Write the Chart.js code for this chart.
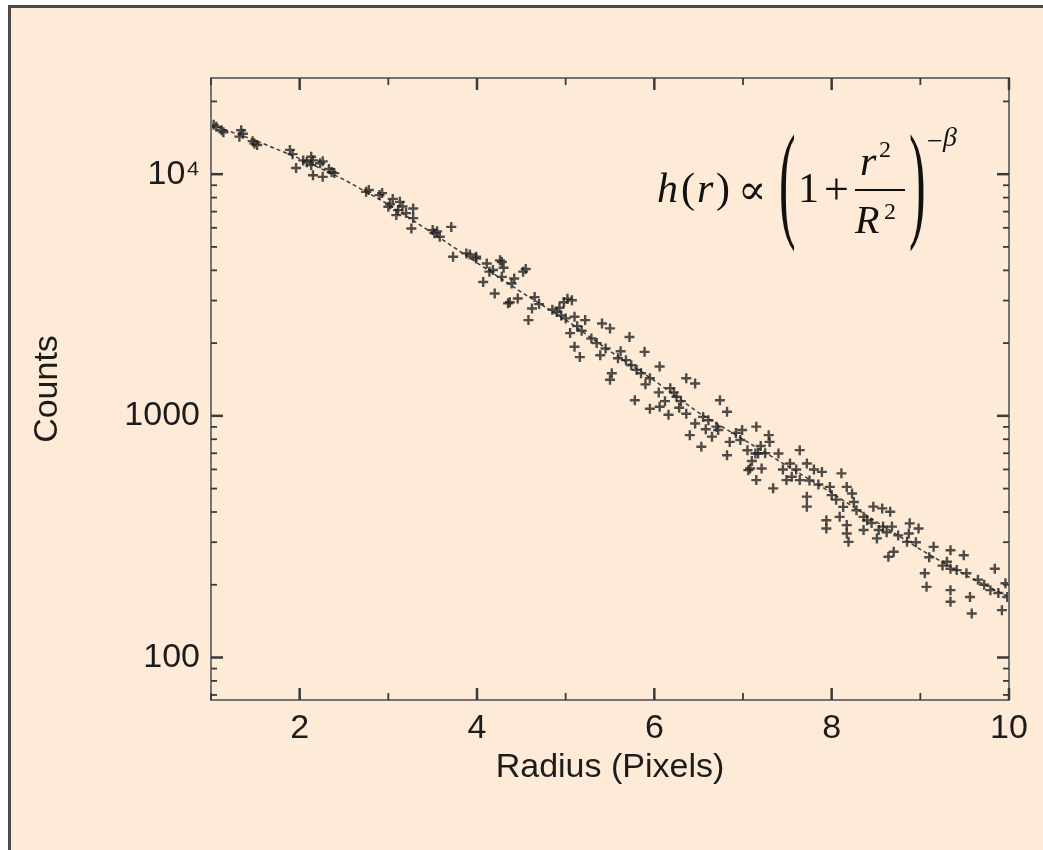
<!DOCTYPE html>
<html>
<head>
<meta charset="utf-8">
<title>Counts vs Radius</title>
<script src="https://cdn.jsdelivr.net/npm/chart.js@4.4.1/dist/chart.umd.min.js"></script>
<style>
  html, body { margin: 0; padding: 0; background: #ffffff; }
  #frame {
    position: absolute; left: 8px; top: 5px; width: 1035px; height: 845px;
    background: #fdebd7; border-left: 3px solid #4a4a4a; border-top: 3px solid #4a4a4a;
    box-sizing: border-box;
  }
  #myChart { position: absolute; left: 0; top: 0; }
</style>
</head>
<body>
<div id="frame"></div>
<canvas id="myChart" width="1043" height="850"></canvas>
<script>
// ============================================================================
// DATA
// ============================================================================
const radiusPts = [
  1.03, 1.06, 1.12, 1.14, 1.32, 1.34, 1.36, 1.49, 1.47, 1.52, 1.89, 1.92, 1.96, 2.04, 2.08, 2.13, 2.15, 2.13, 2.23, 2.26, 2.15, 2.26, 2.36, 2.39, 2.33,
  2.75, 2.78, 2.9, 2.93, 3.0, 3.02, 3.05, 3.13, 3.09, 3.11, 3.16, 3.28, 3.28, 3.26, 3.2, 3.5, 3.52, 3.58, 3.55, 3.71, 3.73, 3.88, 3.92, 3.99, 3.99,
  4.07, 4.11, 4.14, 4.18, 4.2, 4.26, 4.28, 4.28, 4.3, 4.35, 4.37, 4.39, 4.42, 4.46, 4.52, 4.55, 4.58, 4.62, 4.65, 4.7, 4.85, 4.9, 4.93, 4.95, 5.0, 4.98, 5.02, 5.07,
  5.1, 5.1, 5.16, 5.22, 5.29, 5.39, 5.41, 5.5, 5.5, 5.52, 5.59, 5.72, 5.74, 5.78, 5.89, 5.95, 5.95, 5.05, 5.13, 5.18, 5.35, 5.45, 5.62, 5.68, 5.8, 5.85, 5.9,
  6.06, 6.06, 6.16, 6.18, 6.25, 6.22, 6.3, 6.36, 6.36, 6.4, 6.46, 6.46, 6.53, 6.55, 6.61, 6.7, 6.72, 6.74, 6.82, 6.82, 6.85, 6.97, 6.99, 6.92, 6.12, 6.28, 6.05, 6.58, 6.65,
  7.06, 7.08, 7.14, 7.15, 7.15, 7.17, 7.21, 7.29, 7.3, 7.34, 7.4, 7.49, 7.53, 7.64, 7.64, 7.72, 7.72, 7.72, 7.75, 7.85, 7.89, 7.94, 7.94, 7.98, 7.2, 7.1, 7.25, 7.45, 7.55, 7.6, 7.8, 7.05,
  8.0, 8.09, 8.11, 8.17, 8.17, 8.17, 8.19, 8.23, 8.28, 8.36, 8.36, 8.4, 8.47, 8.51, 8.53, 8.57, 8.58, 8.64, 8.66, 8.68, 8.7, 8.85, 8.87, 8.88, 8.98, 8.05, 8.13, 8.25, 8.45, 8.62, 8.75, 8.95,
  9.05, 9.07, 9.15, 9.3, 9.34, 9.34, 9.34, 9.34, 9.41, 9.49, 9.52, 9.56, 9.58, 9.79, 9.84, 9.92, 9.96, 9.98, 9.1, 9.25, 9.65, 9.72, 9.88,
];
const countPts = [
  16000, 15700, 15200, 14900, 14300, 15200, 14700, 13400, 13700, 13200, 12600, 12100, 10600, 11400, 11200, 11800, 11400, 10900, 11100, 11300, 9900, 9750, 10200, 10100, 10500,
  8450, 8600, 8190, 8350, 7330, 7500, 7900, 7680, 6770, 7100, 7350, 7210, 6580, 5960, 6900, 5870, 5700, 5510, 5800, 6050, 4550, 4700, 4650, 4480, 4550,
  3580, 4270, 3950, 4010, 3210, 4400, 4330, 3760, 4100, 2920, 2950, 3530, 3700, 3060, 3950, 4050, 2490, 2780, 3100, 2900, 2750, 2690, 2800, 2600, 2530, 2950, 3050, 3010,
  2570, 1930, 1750, 2490, 2090, 1780, 2410, 2300, 1410, 1500, 1730, 2120, 1620, 1160, 1840, 1430, 1070, 2200, 2350, 2250, 2000, 1900, 1850, 1700, 1550, 1500, 1350,
  1600, 1090, 1010, 1300, 1200, 1250, 1150, 1430, 1020, 832, 1360, 930, 745, 990, 959, 902, 874, 1160, 1040, 687, 780, 794, 874, 850, 1150, 1080, 1250, 880, 820,
  596, 605, 698, 902, 542, 698, 605, 832, 780, 501, 698, 542, 635, 721, 542, 635, 463, 421, 540, 520, 586, 370, 342, 508, 750, 650, 700, 600, 560, 600, 600, 720,
  470, 382, 578, 508, 353, 326, 301, 477, 407, 382, 337, 370, 421, 311, 337, 414, 348, 261, 401, 348, 274, 301, 326, 359, 342, 450, 420, 440, 360, 330, 320, 300,
  223, 196, 287, 249, 278, 233, 190, 170, 230, 265, 223, 178, 152, 190, 233, 157, 203, 178, 260, 240, 210, 200, 185,
];

// garis fit
const fitX = [1, 1.5, 2, 2.5, 3, 3.5, 4, 4.5, 5, 5.5, 6, 6.5, 7, 7.5, 8, 8.5, 9, 9.5, 10];
const fitY = [16000, 13800, 11600, 9500, 7500, 5700, 4300, 3250, 2500, 1850, 1400, 1030, 800, 620, 480, 365, 280, 220, 178];

// tick sumbu
const yTickValues = [70, 80, 90, 100, 200, 300, 400, 500, 600, 700, 800, 900, 1000, 2000, 3000, 4000, 5000, 6000, 7000, 8000, 9000, 10000, 20000];
const yTickLabels = { 100: "100", 1000: "1000", 10000: "10\u2074" };
const xLabelValues = [2, 4, 6, 8, 10];

// ============================================================================
// PLUGIN: kotak plot, tick ke dalam, rumus
// ============================================================================
const frameTicks = {
  id: "frameTicks",
  afterDraw(chart) {
    const { ctx, chartArea: a, scales } = chart;
    const x = scales.x;
    const y = scales.y;
    const line = (x1, y1, x2, y2) => {
      ctx.beginPath();
      ctx.moveTo(x1, y1);
      ctx.lineTo(x2, y2);
      ctx.stroke();
    };
    ctx.save();
    ctx.strokeStyle = "#747474";
    ctx.lineWidth = 2;
    ctx.strokeRect(a.left, a.top, a.right - a.left, a.bottom - a.top);

    ctx.strokeStyle = "#3a3a3a";
    x.ticks.forEach((t) => {
      const px = x.getPixelForValue(t.value);
      const big = xLabelValues.includes(t.value);
      const len = big ? 12 : 7;
      ctx.lineWidth = big ? 2.5 : 1.8;
      line(px, a.bottom, px, a.bottom - len);
      line(px, a.top, px, a.top + len);
    });
    y.ticks.forEach((t) => {
      const py = y.getPixelForValue(t.value);
      const big = yTickLabels[t.value] !== undefined;
      const len = big ? 12 : 6;
      ctx.lineWidth = big ? 2.5 : 1.8;
      line(a.left, py, a.left + len, py);
      line(a.right, py, a.right - len, py);
    });

    // rumus h(r) ∝ (1 + r²/R²)^-β
    ctx.fillStyle = "#111";
    ctx.textBaseline = "alphabetic";
    ctx.textAlign = "left";
    const serif = "'Liberation Serif', 'DejaVu Serif', serif";
    const txt = (s, px, py, size, italic) => {
      ctx.font = `${italic ? "italic " : ""}${size}px ${serif}`;
      ctx.fillText(s, px, py);
    };
    txt("h", 657, 202, 42, true);
    txt("(", 681, 202, 42, false);
    txt("r", 697, 202, 42, true);
    txt(")", 716, 202, 42, false);
    txt("\u221D", 738, 204, 42, false);
    txt("1", 798, 202, 42, false);
    txt("+", 824, 204, 44, false);
    txt("r", 860, 175, 42, true);
    txt("2", 879, 157, 24, false);
    txt("R", 855, 233, 40, true);
    txt("2", 884, 219, 24, false);
    txt("\u2212", 927, 150, 28, false);
    txt("\u03B2", 943, 146, 28, true);
    ctx.fillRect(855, 189, 50, 2);

    const bigParen = (s, px) => {
      ctx.save();
      ctx.translate(px, 191);
      ctx.scale(0.5, 1.3);
      ctx.font = `100px ${serif}`;
      ctx.fillText(s, 0, 25);
      ctx.restore();
    };
    bigParen("(", 779);
    bigParen(")", 909);
    ctx.restore();
  },
};

// ============================================================================
// CHART
// ============================================================================
document.addEventListener("DOMContentLoaded", () => {
  const ctx = document.getElementById("myChart").getContext("2d");
  const sans = "'Liberation Sans', Arial, sans-serif";

  new Chart(ctx, {
    type: "scatter",
    data: {
      datasets: [
        {
          label: "Data",
          data: radiusPts.map((r, i) => ({ x: r, y: countPts[i] })),
          pointStyle: "cross",
          pointRadius: 5,
          pointBorderWidth: 2.4,
          borderColor: "rgba(35,35,35,0.8)",
          backgroundColor: "rgba(35,35,35,0.8)",
        },
        {
          label: "Fit",
          type: "line",
          data: fitX.map((r, i) => ({ x: r, y: fitY[i] })),
          borderColor: "#3c3c3c",
          borderWidth: 1.5,
          borderDash: [4, 3],
          pointRadius: 0,
          tension: 0,
          fill: false,
        },
      ],
    },
    options: {
      responsive: false,
      animation: false,
      devicePixelRatio: 1,
      layout: { padding: { left: 0, top: 78, right: 34, bottom: 0 } },
      plugins: {
        legend: { display: false },
        tooltip: { enabled: false },
      },
      scales: {
        x: {
          type: "linear",
          position: "bottom",
          min: 1,
          max: 10,
          grid: { display: false, drawTicks: false },
          border: { display: false },
          ticks: {
            stepSize: 1,
            autoSkip: false,
            maxRotation: 0,
            padding: 8,
            color: "#1c1c1c",
            font: { family: sans, size: 34 },
            callback: (v) => (xLabelValues.includes(v) ? String(v) : ""),
          },
          title: {
            display: true,
            text: "Radius (Pixels)",
            color: "#1c1c1c",
            font: { family: sans, size: 34 },
            padding: { top: 0, bottom: 62 },
          },
          afterFit: (scale) => {
            scale.height = 150;
          },
        },
        y: {
          type: "logarithmic",
          min: 66.7,
          max: 25000,
          grid: { display: false, drawTicks: false },
          border: { display: false },
          afterBuildTicks: (scale) => {
            scale.ticks = yTickValues.map((v) => ({ value: v }));
          },
          ticks: {
            autoSkip: false,
            padding: 11,
            color: "#1c1c1c",
            font: { family: sans, size: 34 },
            callback: (v) => yTickLabels[v] || "",
          },
          title: {
            display: true,
            text: "Counts",
            color: "#1c1c1c",
            font: { family: sans, size: 34 },
            padding: { top: 27, bottom: 0 },
          },
          afterFit: (scale) => {
            scale.width = 211;
          },
        },
      },
    },
    plugins: [frameTicks],
  });
});
</script>
</body>
</html>
